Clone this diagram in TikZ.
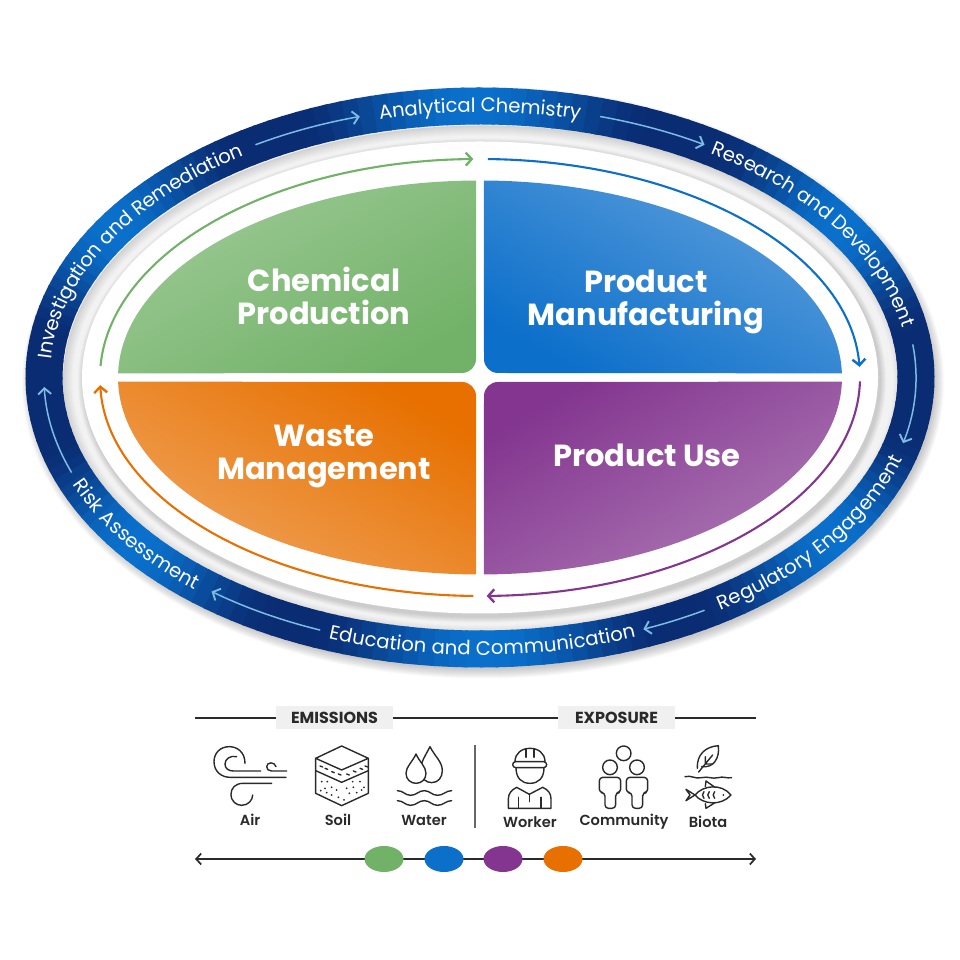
\documentclass[tikz,border=0pt]{standalone}
\usepackage{fontspec}
\setmainfont{Poppins}
\newfontfamily\labelfont{Poppins SemiBold}
\usetikzlibrary{arrows.meta,decorations.text,shapes.geometric}
\definecolor{ringnavy}{HTML}{0A2C72}
\definecolor{ringblue}{HTML}{0A70CC}
\definecolor{ringarrow}{HTML}{7DBBE4}
\definecolor{cgreen}{HTML}{72B268}
\definecolor{cblue}{HTML}{0C6FCA}
\definecolor{cpurple}{HTML}{83358F}
\definecolor{corange}{HTML}{E77000}
\definecolor{ink}{HTML}{2B2A2A}
\newcommand{\ringfont}{\fontsize{19.6}{20}\selectfont}
\newcommand{\ringpath}[2]{(#1:436 and 271.5) arc[start angle=#1,end angle=#2,x radius=436,y radius=271.5]}
\newcommand{\flowpath}[2]{(#1:380 and 218.5) arc[start angle=#1,end angle=#2,x radius=380,y radius=218.5]}
\tikzset{
  ringlabel/.style={decorate,decoration={text along path,text align=center,raise=-6pt,text color=white,text={|\ringfont|#1}}},
  ringflow/.style={ringarrow,line width=1.5pt,-{Straight Barb[length=6pt,width=13pt,line width=1.9pt]}},
  flow/.style={line width=2.1pt,-{Straight Barb[length=6pt,width=13pt,line width=2.4pt]}},
  quadlabel/.style={text=white,align=center,font=\fontsize{30.5}{33}\selectfont\bfseries},
  headlabel/.style={fill=black!6,text=ink,font=\fontsize{16}{17}\selectfont\bfseries,minimum height=23pt,inner sep=0pt},
  iconlabel/.style={text=ink,font=\fontsize{14.6}{15}\labelfont,inner sep=0pt},
  dot/.style={ellipse,minimum width=39pt,minimum height=26pt,inner sep=0pt},
  icon/.style={line width=1.4pt,ink,line cap=round,line join=round},
  zoomA/.style={shift={(190,260)},x=0.3333pt,y=-0.3333pt},
  zoomB/.style={shift={(470,260)},x=0.3333pt,y=-0.3333pt}
}
\begin{document}
\begin{tikzpicture}[x=1pt,y=1pt,>={Straight Barb[length=5pt,width=11pt,line width=1.7pt]}]
\useasboundingbox (0,0) rectangle (960,960);
\begin{scope}[shift={(480,582.5)}]
% shadow under the ring
\foreach \s in {0,1,...,9}
  \fill[black,opacity=0.022] (3,-5) ellipse[x radius=461-\s,y radius=296-\s];
% grey band
\fill[black!6] (0,0) ellipse[x radius=420,y radius=255];
\foreach \s in {0,1,...,9}{
  \pgfmathsetmacro\g{18-1.3*\s}
  \fill[black!\g] (3,-3) ellipse[x radius=420-\s,y radius=255-\s];
}
\fill[black!5] (3,-3) ellipse[x radius=410,y radius=245];
\foreach \s in {0,1,...,6}{
  \pgfmathsetmacro\g{5+2.5*\s}
  \fill[black!\g] (2,-3) ellipse[x radius=405-\s,y radius=243-\s];
}
\fill[white] (0,0) ellipse[x radius=398,y radius=236];
% ring, piece by piece
\foreach \a in {0,2,...,358}{
  \pgfmathsetmacro\d{min(min(abs(\a-33),abs(\a-90)),min(abs(\a-146),abs(\a-217)))}
  \pgfmathsetmacro\e{min(\d,min(min(abs(\a-270),abs(\a-323)),abs(\a-393)))}
  \pgfmathsetmacro\m{100*pow(cos(min(\e,25)*3.6),2)}
  \pgfmathsetmacro\b{\a+2.4}
  \colorlet{ringc}{ringblue!\m!ringnavy}
  \draw[ringc,line width=37pt] \ringpath{\a}{\b};
}
% ring arrows
\draw[ringflow] \ringpath{121}{106};
\draw[ringflow] \ringpath{74}{59};
\draw[ringflow] \ringpath{7}{-14};
\draw[ringflow] \ringpath{-59}{-68};
\draw[ringflow] \ringpath{-111.5}{-128};
\draw[ringflow] \ringpath{200.5}{182};
% ring texts
\path[ringlabel={Analytical Chemistry}] \ringpath{104}{76};
\path[ringlabel={Research and Development}] \ringpath{59}{9};
\path[ringlabel={Regulatory Engagement}] \ringpath{-61}{-11};
\path[ringlabel={Education and Communication}] \ringpath{-113.7}{-65.7};
\path[ringlabel={Risk Assessment}] \ringpath{197.5}{233.5};
\path[ringlabel={Investigation and Remediation}] \ringpath{179}{121};
% quadrants
\shade[top color=cgreen!70!white,bottom color=cgreen,shading angle=30]
  (90.6:362 and 197) arc[start angle=90.6,end angle=178.8,x radius=362,y radius=197]
  -- (-18,4.5) arc[start angle=270,end angle=360,radius=14] -- cycle;
\shade[top color=cblue!68!white,bottom color=cblue,shading angle=-30]
  (89.4:362 and 197) arc[start angle=89.4,end angle=1.2,x radius=362,y radius=197]
  -- (18,4.5) arc[start angle=270,end angle=180,radius=14] -- cycle;
\shade[top color=cpurple,bottom color=cpurple!67!white,shading angle=30]
  (-1.2:362 and 197) arc[start angle=-1.2,end angle=-89.4,x radius=362,y radius=197]
  -- (4,-18.5) arc[start angle=180,end angle=90,radius=14] -- cycle;
\shade[top color=corange,bottom color=corange!65!white,shading angle=-30]
  (181.2:362 and 197) arc[start angle=181.2,end angle=269.4,x radius=362,y radius=197]
  -- (-4,-18.5) arc[start angle=0,end angle=90,radius=14] -- cycle;
% flow arrows
\draw[flow,cgreen] \flowpath{177}{91};
\draw[flow,cblue] \flowpath{88.8}{2.8};
\draw[flow,cpurple] \flowpath{-1}{-89};
\draw[flow,corange] \flowpath{-91}{-178};
\end{scope}
\node[quadlabel] (chem) at (324,664) {Chemical\\Production};
\node[quadlabel] (manu) at (646,658) {Product\\Manufacturing};
\node[quadlabel] (waste) at (324,504) {Waste\\Management};
\node[quadlabel] (use) at (647,505) {Product Use};
% legend
\coordinate (ruleL) at (195,242);
\coordinate (ruleR) at (756,242);
\node[headlabel,minimum width=117pt] (emis) at (334.5,242) {EMISSIONS};
\node[headlabel,minimum width=117pt] (expo) at (616.5,242) {EXPOSURE};
\draw[ink,line width=1.4pt] (ruleL) -- (emis) (emis) -- (expo) (expo) -- (ruleR);
\coordinate (divT) at (475,215);
\coordinate (divB) at (475,132);
\draw[black!60,line width=1.2pt] (divT) -- (divB);
\node[iconlabel] (air) at (250,140) {Air};
\node[iconlabel] (soil) at (338,140) {Soil};
\node[iconlabel] (water) at (424,140) {Water};
\node[iconlabel] (worker) at (530,138) {Worker};
\node[iconlabel] (community) at (624,138) {Community};
\node[iconlabel] (biota) at (708,138) {Biota};
\coordinate (timeL) at (195,101);
\coordinate (timeR) at (756,101);
\draw[<->,ink,line width=1.5pt] (timeL) -- (timeR);
\node[dot,fill=cgreen] (dotgreen) at (384,101) {};
\node[dot,fill=cblue] (dotblue) at (444,101) {};
\node[dot,fill=cpurple] (dotpurple) at (503,101) {};
\node[dot,fill=corange] (dotorange) at (563,101) {};
% icons
\begin{scope}[zoomA,icon]
  \draw (165,190) .. controls (165,155) and (140,140) .. (118,140) .. controls (90,140) and (72,160) .. (72,185) .. controls (72,215) and (95,232) .. (120,232) -- (288,232);
  \draw (140,170) .. controls (120,165) and (105,178) .. (105,192) .. controls (105,205) and (115,213) .. (130,213) -- (212,213);
  \draw (258,200) .. controls (255,185) and (230,185) .. (230,200) .. controls (230,208) and (236,213) .. (245,213) -- (290,213);
  \draw (245,250) -- (160,250) .. controls (135,250) and (123,265) .. (123,283) .. controls (123,305) and (140,316) .. (155,316) .. controls (175,316) and (188,300) .. (188,285);
  \draw (455,138) -- (535,175) -- (455,210) -- (377,175) -- cycle;
  \draw (377,175) -- (377,280) -- (455,317) -- (535,280) -- (535,175);
  \draw (377,212) -- (455,247) -- (535,212);
  \foreach \p/\q in {390/198,405/205,425/215,445/222,470/222,490/213,510/205,525/198}
    \draw (\p,\q) -- ++(8,3);
  \foreach \p/\q in {395/245,412/245,405/265,425/262,392/272,440/270,425/285,445/292,410/278,470/265,490/262,510/245,522/262,478/280,500/278,462/300,488/245,515/270}
    \fill (\p,\q) circle[radius=3];
  \draw (720,140) .. controls (705,170) and (692,185) .. (692,212) .. controls (692,235) and (708,248) .. (725,248) .. controls (745,248) and (757,232) .. (757,212) .. controls (757,185) and (735,170) .. (720,140) -- cycle;
  \draw[fill=white] (678,162) .. controls (668,185) and (648,200) .. (648,220) .. controls (648,238) and (662,250) .. (678,250) .. controls (695,250) and (708,238) .. (708,220) .. controls (708,200) and (688,185) .. (678,162) -- cycle;
  \foreach \w in {280,310}
    \draw (622,\w-8) .. controls (640,\w-8) and (645,\w+6) .. (662,\w+6) .. controls (680,\w+6) and (685,\w-8) .. (703,\w-8) .. controls (720,\w-8) and (725,\w+6) .. (743,\w+6) .. controls (760,\w+6) and (768,\w-8) .. (785,\w-8);
\end{scope}
\begin{scope}[zoomB,icon]
  % worker
  \draw (135,185) .. controls (135,160) and (155,145) .. (180,145) .. controls (205,145) and (225,160) .. (225,185);
  \draw[rounded corners=3pt] (128,185) rectangle (230,203);
  \draw (168,147) -- (168,172) (192,147) -- (192,172);
  \draw (138,203) .. controls (138,235) and (155,250) .. (180,250) .. controls (205,250) and (222,235) .. (222,203);
  \draw (115,325) -- (115,297) .. controls (115,280) and (125,270) .. (140,262) -- (178,283) -- (218,262) .. controls (235,270) and (243,280) .. (243,297) -- (243,325) -- cycle;
  \draw (145,292) -- (145,325) (213,292) -- (213,325) (178,283) -- (178,305);
  % community
  \draw (461,160) circle[radius=22] (420,202) circle[radius=22] (501,202) circle[radius=22];
  \foreach \d in {0,81}
    \draw[rounded corners=3.5pt,shift={(\d*0.3333pt,0)}] (388,278) -- (388,232) -- (452,232) -- (452,278) -- (437,278) -- (437,325) -- (405,325) -- (405,278) -- cycle;
  % leaf
  \draw (682,205) .. controls (680,165) and (705,140) .. (745,137) .. controls (750,175) and (730,205) .. (695,200);
  \draw (686,216) -- (728,165) (706,192) -- (706,170) (706,192) -- (728,192);
  \draw (645,230) .. controls (665,225) and (675,238) .. (695,233) .. controls (715,228) and (725,238) .. (745,233) .. controls (760,228) and (770,236) .. (785,233);
  % fish
  \draw (675,285) .. controls (700,255) and (755,250) .. (783,285) .. controls (755,318) and (700,315) .. (675,285);
  \draw (675,285) -- (648,268) -- (660,285) -- (648,302) -- cycle;
  \draw (706,260) -- (708,243) -- (735,262) (706,311) -- (708,325) -- (735,308);
  \foreach \g in {702,718,734}
    \draw (\g,275) .. controls (\g-6,280) and (\g-6,290) .. (\g,295);
  \fill (760,285) circle[radius=3];
\end{scope}
\end{tikzpicture}
\end{document}
